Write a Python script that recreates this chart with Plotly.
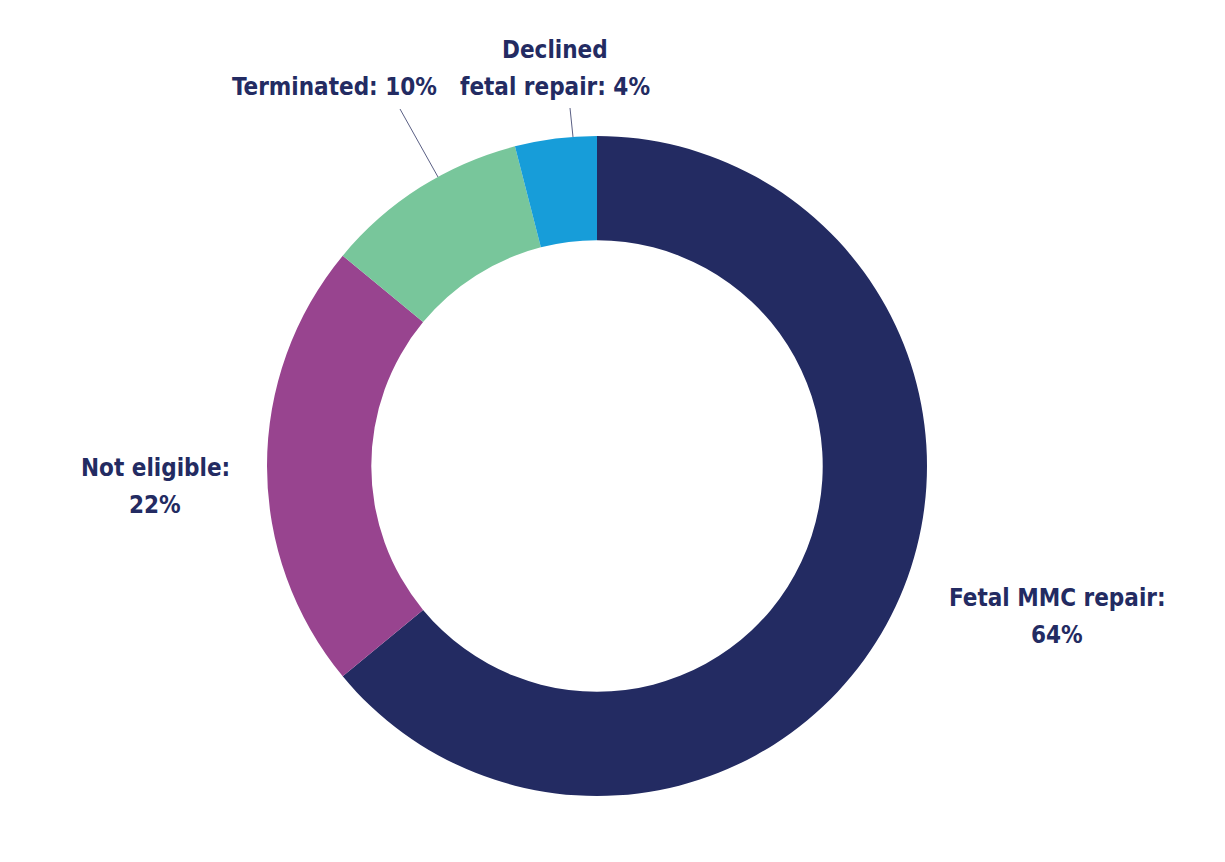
import plotly.graph_objects as go

# slice data, clockwise from 12 o'clock
labels = ["Fetal MMC repair", "Not eligible", "Terminated", "Declined fetal repair"]
shares = [64, 22, 10, 4]
colors = ["#232B62", "#98448F", "#78C69B", "#179DD9"]

# text shown next to each slice, one entry per line
label_lines = [["Fetal MMC repair:", "64%"], ["Not eligible:", "22%"],
               ["Terminated: 10%"], ["Declined", "fetal repair: 4%"]]

W, H = 1225, 862
OFF = 8  # page body margin
cx, cy, r = 597, 466, 330  # pie centre / radius in pixels

def px(x):
    return (x - OFF) / W

def py(y):
    return 1 - (y - OFF) / H

fig = go.Figure(go.Pie(
    labels=labels,
    values=shares,
    marker=dict(colors=colors, line=dict(width=0)),
    hole=0.684,
    sort=False,
    direction="clockwise",
    rotation=0,
    textinfo="none",
    showlegend=False,
    domain=dict(x=[px(cx - r), px(cx + r)], y=[py(cy + r), py(cy - r)]),
))

font = dict(family="DejaVu Sans Condensed", size=24, color="#232B62")
# centre x and first-line y (pixels) of each label
label_pos = [(1057, 598), (155, 468), (334, 87), (555, 50)]
gap = 37
for lines, (x, y) in zip(label_lines, label_pos):
    for i, txt in enumerate(lines):
        fig.add_annotation(x=px(x), y=py(y + i * gap), xref="paper", yref="paper",
                           text="<b>" + txt + "</b>", showarrow=False, font=font,
                           xanchor="center", yanchor="middle")

# leader lines
for x0, y0, x1, y1 in [(400, 109, 438, 177), (570, 108, 573, 137)]:
    fig.add_shape(type="line", xref="paper", yref="paper",
                  x0=px(x0), y0=py(y0), x1=px(x1), y1=py(y1),
                  line=dict(color="#5A5F84", width=1))

fig.update_layout(width=W, height=H, margin=dict(l=0, r=0, t=0, b=0),
                  paper_bgcolor="white", plot_bgcolor="white")

fig.write_html("out.html")
